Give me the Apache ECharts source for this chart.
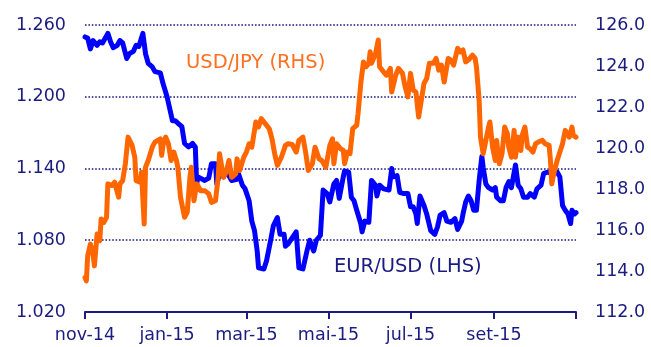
<!DOCTYPE html>
<html>
<head>
<meta charset="utf-8">
<script src="https://cdn.jsdelivr.net/npm/echarts@6/dist/echarts.min.js"></script>
<style>
  html, body { margin: 0; padding: 0; background: #ffffff; }
  #chart { width: 651px; height: 347px; }
</style>
</head>
<body>
<div id="chart"></div>
<script>
// EUR/USD (left axis) observations
const eurUsdDates = [
  '2014-11-01','2014-11-03','2014-11-05','2014-11-07','2014-11-10','2014-11-12','2014-11-14','2014-11-18','2014-11-20','2014-11-22',
  '2014-11-25','2014-11-27','2014-11-29','2014-12-02','2014-12-04','2014-12-07','2014-12-09','2014-12-11','2014-12-14','2014-12-16',
  '2014-12-18','2014-12-21','2014-12-23','2014-12-27','2014-12-29','2015-01-01','2015-01-03','2015-01-05','2015-01-07','2015-01-09',
  '2015-01-12','2015-01-14','2015-01-17','2015-01-20','2015-01-22','2015-01-23','2015-01-24','2015-01-29','2015-02-01','2015-02-03',
  '2015-02-06','2015-02-07','2015-02-09','2015-02-12','2015-02-14','2015-02-18','2015-02-22','2015-02-23','2015-02-26','2015-02-28',
  '2015-03-03','2015-03-05','2015-03-07','2015-03-09','2015-03-10','2015-03-14','2015-03-16','2015-03-19','2015-03-21','2015-03-24',
  '2015-03-26','2015-03-29','2015-03-30','2015-04-01','2015-04-04','2015-04-07','2015-04-09','2015-04-12','2015-04-15','2015-04-17',
  '2015-04-20','2015-04-22','2015-04-25','2015-04-27','2015-04-30','2015-05-02','2015-05-05','2015-05-07','2015-05-09','2015-05-12',
  '2015-05-13','2015-05-16','2015-05-18','2015-05-20','2015-05-22','2015-05-25','2015-05-26','2015-05-28','2015-05-31','2015-06-02',
  '2015-06-05','2015-06-06','2015-06-08','2015-06-11','2015-06-15','2015-06-17','2015-06-18','2015-06-21','2015-06-23','2015-06-26',
  '2015-06-29','2015-07-01','2015-07-03','2015-07-05','2015-07-06','2015-07-08','2015-07-11','2015-07-13','2015-07-16','2015-07-19',
  '2015-07-21','2015-07-23','2015-07-26','2015-07-28','2015-07-31','2015-08-03','2015-08-05','2015-08-08','2015-08-09','2015-08-11',
  '2015-08-13','2015-08-15','2015-08-17','2015-08-19','2015-08-21','2015-08-23','2015-08-24','2015-08-26','2015-08-28','2015-08-31',
  '2015-09-02','2015-09-03','2015-09-06','2015-09-08','2015-09-10','2015-09-12','2015-09-14','2015-09-17','2015-09-19','2015-09-21',
  '2015-09-23','2015-09-26','2015-09-28','2015-10-01','2015-10-03','2015-10-06','2015-10-08','2015-10-11','2015-10-13','2015-10-15',
  '2015-10-18','2015-10-20','2015-10-22','2015-10-24','2015-10-26','2015-10-28','2015-10-29','2015-10-31','2015-11-01'
];
const eurUsdValues = [
  1.250,1.249,1.240,1.247,1.243,1.246,1.245,1.253,1.246,1.241,
  1.243,1.247,1.245,1.232,1.236,1.238,1.243,1.242,1.253,1.236,
  1.228,1.225,1.221,1.220,1.211,1.200,1.190,1.180,1.180,1.178,
  1.175,1.161,1.158,1.161,1.158,1.127,1.133,1.130,1.132,1.144,
  1.144,1.127,1.136,1.133,1.138,1.130,1.131,1.136,1.126,1.123,
  1.113,1.096,1.088,1.071,1.057,1.056,1.063,1.080,1.092,1.099,
  1.085,1.085,1.075,1.077,1.082,1.087,1.057,1.056,1.071,1.080,
  1.071,1.080,1.084,1.122,1.119,1.112,1.127,1.130,1.115,1.133,
  1.138,1.137,1.116,1.113,1.105,1.094,1.087,1.096,1.095,1.130,
  1.126,1.117,1.126,1.123,1.122,1.140,1.133,1.134,1.120,1.119,
  1.119,1.108,1.108,1.102,1.094,1.117,1.109,1.102,1.088,1.085,
  1.091,1.101,1.103,1.096,1.095,1.098,1.089,1.096,1.102,1.112,
  1.117,1.113,1.105,1.105,1.130,1.150,1.141,1.127,1.124,1.122,
  1.124,1.116,1.113,1.113,1.124,1.129,1.124,1.143,1.126,1.123,
  1.116,1.116,1.119,1.116,1.123,1.126,1.136,1.137,1.136,1.136,
  1.137,1.133,1.109,1.105,1.102,1.094,1.105,1.102,1.103
];

// USD/JPY (right axis) observations
const usdJpyDates = [
  '2014-11-01','2014-11-02','2014-11-03','2014-11-05','2014-11-07','2014-11-08','2014-11-10','2014-11-12','2014-11-13','2014-11-15',
  '2014-11-17','2014-11-18','2014-11-21','2014-11-23','2014-11-26','2014-11-27','2014-11-29','2014-12-01','2014-12-03','2014-12-06',
  '2014-12-08','2014-12-09','2014-12-12','2014-12-13','2014-12-15','2014-12-16','2014-12-18','2014-12-21','2014-12-23','2014-12-27',
  '2014-12-28','2014-12-29','2014-12-31','2015-01-02','2015-01-04','2015-01-06','2015-01-08','2015-01-09','2015-01-11','2015-01-14',
  '2015-01-16','2015-01-18','2015-01-19','2015-01-21','2015-01-23','2015-01-26','2015-01-29','2015-02-01','2015-02-03','2015-02-06',
  '2015-02-08','2015-02-09','2015-02-12','2015-02-14','2015-02-16','2015-02-18','2015-02-21','2015-02-22','2015-02-24','2015-02-27',
  '2015-03-01','2015-03-03','2015-03-05','2015-03-06','2015-03-08','2015-03-10','2015-03-12','2015-03-15','2015-03-18','2015-03-20',
  '2015-03-22','2015-03-24','2015-03-27','2015-03-30','2015-04-01','2015-04-04','2015-04-07','2015-04-09','2015-04-12','2015-04-14',
  '2015-04-16','2015-04-19','2015-04-21','2015-04-24','2015-04-26','2015-04-29','2015-05-02','2015-05-04','2015-05-05','2015-05-07',
  '2015-05-10','2015-05-12','2015-05-13','2015-05-15','2015-05-17','2015-05-19','2015-05-22','2015-05-23','2015-05-25','2015-05-27',
  '2015-05-29','2015-05-31','2015-06-01','2015-06-02','2015-06-05','2015-06-07','2015-06-08','2015-06-11','2015-06-13','2015-06-16',
  '2015-06-17','2015-06-20','2015-06-22','2015-06-25','2015-06-27','2015-06-29','2015-07-01','2015-07-03','2015-07-05','2015-07-07',
  '2015-07-09','2015-07-11','2015-07-13','2015-07-15','2015-07-18','2015-07-20','2015-07-22','2015-07-24','2015-07-26','2015-07-29',
  '2015-07-31','2015-08-02','2015-08-05','2015-08-07','2015-08-09','2015-08-11','2015-08-13','2015-08-16','2015-08-18','2015-08-19',
  '2015-08-21','2015-08-22','2015-08-24','2015-08-26','2015-08-28','2015-08-29','2015-08-31','2015-09-02','2015-09-03','2015-09-05',
  '2015-09-07','2015-09-09','2015-09-11','2015-09-12','2015-09-14','2015-09-16','2015-09-17','2015-09-19','2015-09-21','2015-09-22',
  '2015-09-24','2015-09-26','2015-09-28','2015-09-30','2015-10-02','2015-10-04','2015-10-07','2015-10-09','2015-10-12','2015-10-13',
  '2015-10-14','2015-10-16','2015-10-18','2015-10-20','2015-10-22','2015-10-24','2015-10-25','2015-10-27','2015-10-29','2015-10-30',
  '2015-11-01'
];
const usdJpyValues = [
  113.68,113.52,114.74,115.31,114.82,114.25,115.80,115.48,116.54,116.37,
  116.62,118.25,118.17,118.33,117.60,118.25,118.41,119.23,120.53,120.13,
  119.55,118.41,118.33,118.82,116.29,119.06,119.39,120.04,120.29,120.45,
  119.64,120.13,120.53,120.21,119.39,119.80,119.39,119.06,117.60,116.62,
  116.86,118.57,119.06,117.43,118.25,117.92,117.92,117.76,117.35,117.43,
  118.57,119.72,118.57,118.82,119.39,118.57,118.74,119.47,118.90,119.55,
  119.80,120.21,120.04,120.45,121.27,121.02,121.43,121.19,120.94,120.45,
  119.72,119.15,119.55,120.13,120.21,120.17,119.80,120.37,120.53,119.80,
  118.90,119.23,120.04,119.47,119.39,119.06,120.13,120.45,119.23,120.21,
  119.96,119.88,119.23,119.80,119.72,120.94,121.11,121.68,123.15,124.20,
  123.96,124.13,124.69,124.13,124.61,125.27,123.96,123.71,123.55,123.88,
  122.73,123.55,123.88,123.64,122.98,122.49,123.64,122.82,122.73,121.51,
  122.33,123.15,123.39,124.13,124.13,124.37,123.80,124.04,123.22,124.37,
  124.29,124.04,124.86,124.69,124.78,124.20,124.29,124.53,124.37,123.96,
  122.33,120.53,119.72,120.37,121.02,121.27,120.04,119.39,120.37,119.23,
  119.72,121.02,120.70,120.04,119.55,120.86,119.55,120.53,119.88,120.62,
  121.02,120.04,119.96,119.80,120.21,120.29,120.37,120.21,120.13,119.39,
  118.25,118.90,119.39,119.80,120.21,120.86,120.94,120.53,121.02,120.62,
  120.53
];

// Axis ticks (every two months) and month names
const tickDates = ['2014-11-01','2015-01-01','2015-03-01','2015-05-01','2015-07-01','2015-09-01','2015-11-01'];
const labelDates = ['2014-11-01','2015-01-01','2015-03-01','2015-05-01','2015-07-01','2015-09-01'];
const monthNames = ['jan','fev','mar','abr','mai','jun','jul','ago','set','out','nov','dez'];

const startMs = Date.parse('2014-11-01');
const DAY = 86400000;
const toDay = s => (Date.parse(s) - startMs) / DAY;

const eurData = eurUsdDates.map((d, i) => [toDay(d), eurUsdValues[i]]);
const jpyData = usdJpyDates.map((d, i) => [toDay(d), usdJpyValues[i]]);

const NAVY = '#1b1b80';
const ORANGE = '#ff6600';
const FONT = 'DejaVu Sans';

const chart = echarts.init(document.getElementById('chart'), null, { renderer: 'canvas' });

chart.setOption({
  animation: false,
  backgroundColor: '#ffffff',
  grid: { left: 85, right: 75, top: 25, bottom: 35 },
  xAxis: {
    type: 'value',
    min: 0,
    max: toDay('2015-11-01'),
    splitLine: { show: false },
    axisLine: { show: true, lineStyle: { color: NAVY, width: 2 } },
    axisTick: {
      show: true,
      length: 7,
      lineStyle: { color: NAVY, width: 2 },
      customValues: tickDates.map(toDay)
    },
    axisLabel: {
      color: NAVY,
      fontFamily: FONT,
      fontSize: 17.5,
      margin: 14,
      customValues: labelDates.map(toDay),
      formatter: v => {
        const d = new Date(startMs + Math.round(v) * DAY);
        return monthNames[d.getUTCMonth()] + '-' + String(d.getUTCFullYear()).slice(2);
      }
    }
  },
  yAxis: [
    {
      type: 'value',
      min: 1.02,
      max: 1.26,
      interval: 0.06,
      axisLine: { show: false },
      axisTick: { show: false },
      axisLabel: {
        color: NAVY,
        fontFamily: FONT,
        fontSize: 17.5,
        margin: 19,
        formatter: v => v.toFixed(3)
      },
      splitLine: {
        show: true,
        lineStyle: { color: NAVY, width: 1.6, type: [1.6, 1.8] }
      }
    },
    {
      type: 'value',
      min: 112,
      max: 126,
      interval: 2,
      axisLine: { show: false },
      axisTick: { show: false },
      splitLine: { show: false },
      axisLabel: {
        color: NAVY,
        fontFamily: FONT,
        fontSize: 17.5,
        margin: 19,
        formatter: v => v.toFixed(1)
      }
    }
  ],
  series: [
    {
      name: 'EUR/USD (LHS)',
      type: 'line',
      yAxisIndex: 0,
      data: eurData,
      showSymbol: false,
      symbol: 'none',
      lineStyle: { color: '#0000ff', width: 5, join: 'round', cap: 'round' }
    },
    {
      name: 'USD/JPY (RHS)',
      type: 'line',
      yAxisIndex: 1,
      data: jpyData,
      showSymbol: false,
      symbol: 'none',
      lineStyle: { color: ORANGE, width: 5, join: 'round', cap: 'round' }
    }
  ],
  graphic: [
    {
      type: 'text',
      left: 186,
      top: 53,
      style: { text: 'USD/JPY (RHS)', fill: '#ff7020', font: '19.5px "DejaVu Sans"' }
    },
    {
      type: 'text',
      left: 334,
      top: 257,
      style: { text: 'EUR/USD (LHS)', fill: NAVY, font: '19.5px "DejaVu Sans"' }
    }
  ]
});
</script>
</body>
</html>
